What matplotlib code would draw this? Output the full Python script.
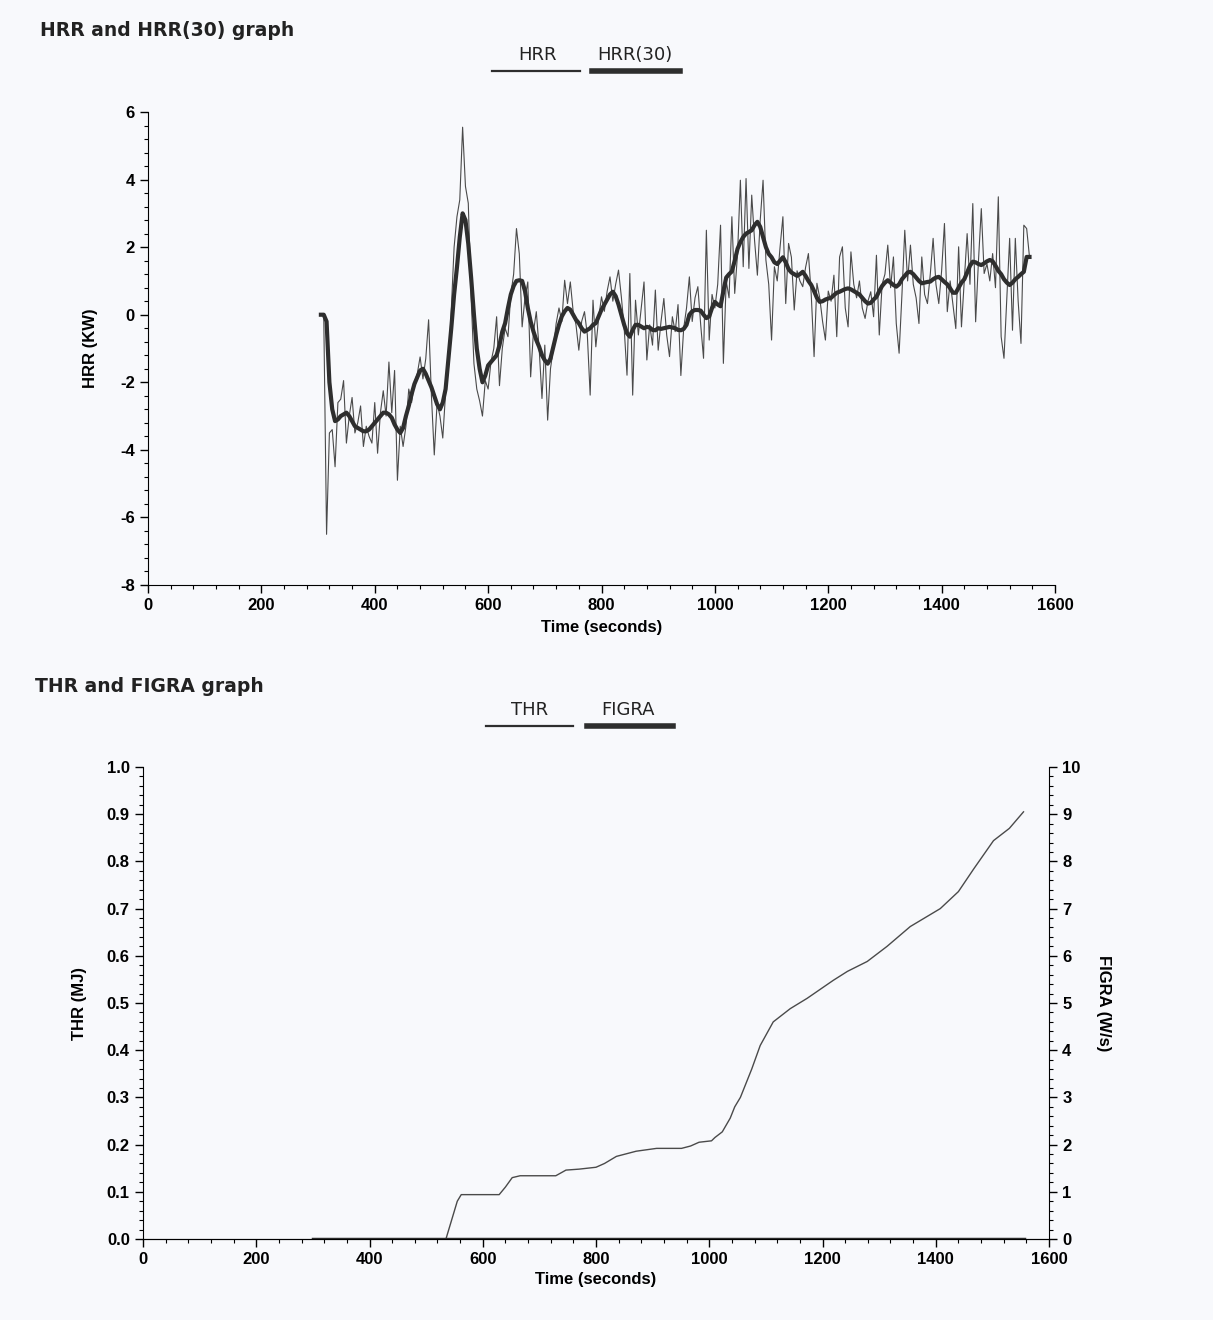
import numpy as np
import matplotlib
matplotlib.use("Agg")
import matplotlib.pyplot as plt
from matplotlib.lines import Line2D
from matplotlib.ticker import MultipleLocator, FormatStrFormatter

# -----------------------------
# Data
# -----------------------------
# HRR (kW), sampled every 5 s starting at 305 s
hrr = [0.0, 0.0, -6.5, -3.5, -3.4, -4.5, -2.6, -2.5, -1.95, -3.8,
       -3.0, -2.45, -3.5, -3.2, -2.7, -3.9, -3.3, -3.6, -3.8, -2.6,
       -4.1, -2.9, -2.25, -3.0, -1.4, -2.9, -1.65, -4.9, -3.3, -3.9,
       -3.3, -2.2, -2.6, -2.0, -1.75, -1.25, -1.9, -1.3, -0.15, -2.4,
       -4.15, -2.6, -3.0, -3.65, -2.3, -1.6, 0.15, 2.0, 2.9, 3.4,
       5.55, 3.8, 3.3, 0.5, -1.45, -2.2, -2.55, -3.0, -1.95, -2.2,
       -1.4, -1.0, -0.06, -2.1, -1.0, -0.4, -0.65, 0.6, 1.2, 2.55,
       1.8, -0.36, 0.5, 0.97, -1.84, -0.5, 0.09, -1.0, -2.48, -0.9,
       -3.12, -1.6, -1.0, -0.26, 0.2, -0.2, 1.02, 0.33, 0.97, 0.1,
       -0.3, -1.05, -0.2, 0.09, -0.6, -2.38, 0.43, -0.95, -0.1, 0.53,
       0.1, 0.7, 1.12, 0.4, 0.9, 1.32, 0.53, -0.4, -1.79, 1.22,
       -2.38, 0.43, -0.6, 0.2, 0.97, -1.34, -0.3, -0.9, 0.73, -1.05,
       -0.2, 0.48, -0.6, -1.24, -0.06, -0.5, 0.3, -1.8, -0.4, 0.2,
       1.12, -0.2, 0.5, 0.83, -0.3, -1.29, 2.5, -0.75, 0.6, 0.2,
       0.9, 2.65, -1.44, 1.0, 0.5, 2.9, 0.63, 1.8, 3.98, 1.42,
       4.03, 1.37, 3.54, 2.2, 1.17, 2.8, 3.98, 1.62, 0.9, -0.75,
       1.42, 1.0, 2.0, 2.9, 0.33, 2.11, 1.7, 0.14, 1.3, 1.0,
       0.83, 1.4, 1.81, 0.6, -1.24, 0.93, 0.5, -0.2, -0.75, 0.7,
       0.4, 1.17, -0.65, 1.71, 2.01, 0.2, -0.36, 1.86, 0.9, 0.5,
       1.0, 0.2, -0.11, 0.4, 0.68, -0.06, 1.76, -0.6, 0.9, 1.2,
       2.06, 0.8, 1.71, -0.26, -1.14, 0.6, 2.5, 1.0, 2.06, 0.9,
       0.5, -0.26, 1.71, 0.6, 0.33, 1.2, 2.26, 0.9, 0.33, 1.3,
       2.7, 0.09, 1.0, 0.3, -0.41, 2.01, -0.36, 1.0, 2.4, 0.9,
       3.29, -0.21, 1.6, 3.14, 1.22, 1.5, 1.0, 1.81, 0.8, 3.49,
       -0.65, -1.29, 0.5, 2.26, -0.46, 2.26, 0.4, -0.85, 2.65, 2.55,
       1.71]

# HRR(30) running average (kW), same 5 s grid from 305 s
hrr30 = [0.0, 0.0, -0.2, -2.0, -2.8, -3.15, -3.1, -3.0, -2.95, -2.9,
         -3.0, -3.15, -3.3, -3.35, -3.4, -3.45, -3.45, -3.4, -3.3, -3.2,
         -3.1, -3.0, -2.9, -2.9, -2.95, -3.05, -3.25, -3.4, -3.5, -3.35,
         -3.0, -2.7, -2.35, -2.05, -1.85, -1.65, -1.6, -1.75, -1.95, -2.15,
         -2.4, -2.65, -2.8, -2.6, -2.2, -1.3, -0.4, 0.6, 1.4, 2.3,
         3.0, 2.8, 2.1, 1.1, 0.0, -1.0, -1.6, -2.0, -1.8, -1.5,
         -1.4, -1.3, -1.2, -0.9, -0.5, -0.25, 0.2, 0.6, 0.85, 1.0,
         1.02, 1.0, 0.7, 0.2, -0.2, -0.5, -0.75, -0.95, -1.2, -1.35,
         -1.45, -1.3, -0.95, -0.6, -0.3, -0.05, 0.1, 0.2, 0.15, 0.0,
         -0.15, -0.25, -0.4, -0.5, -0.45, -0.4, -0.3, -0.25, -0.05, 0.15,
         0.3, 0.45, 0.6, 0.68, 0.55, 0.3, 0.0, -0.3, -0.55, -0.65,
         -0.45, -0.3, -0.3, -0.35, -0.4, -0.36, -0.38, -0.45, -0.46, -0.4,
         -0.42, -0.4, -0.38, -0.36, -0.38, -0.4, -0.45, -0.46, -0.42, -0.3,
         0.0, 0.1, 0.14, 0.14, 0.12, 0.0, -0.1, -0.05, 0.2, 0.38,
         0.3, 0.25, 0.7, 1.1, 1.2, 1.28, 1.6, 1.95, 2.15, 2.3,
         2.4, 2.45, 2.5, 2.65, 2.75, 2.6, 2.3, 2.0, 1.8, 1.7,
         1.55, 1.5, 1.6, 1.7, 1.55, 1.35, 1.25, 1.2, 1.15, 1.2,
         1.27, 1.15, 1.0, 0.88, 0.7, 0.5, 0.38, 0.4, 0.45, 0.48,
         0.5, 0.58, 0.65, 0.68, 0.72, 0.76, 0.78, 0.75, 0.7, 0.65,
         0.6, 0.5, 0.4, 0.33, 0.35, 0.45, 0.53, 0.7, 0.85, 0.95,
         1.02, 0.95, 0.88, 0.83, 0.9, 1.05, 1.15, 1.25, 1.27, 1.2,
         1.1, 1.0, 0.93, 0.95, 0.97, 0.98, 1.05, 1.1, 1.12, 1.05,
         0.97, 0.9, 0.78, 0.65, 0.65, 0.8, 0.95, 1.05, 1.25, 1.45,
         1.57, 1.55, 1.5, 1.47, 1.52, 1.58, 1.62, 1.58, 1.45, 1.3,
         1.2, 1.05, 0.95, 0.88, 0.95, 1.05, 1.12, 1.2, 1.27, 1.71,
         1.71]

hrr_time = 305 + 5 * np.arange(len(hrr))
hrr30_time = 305 + 5 * np.arange(len(hrr30))

# THR (MJ)
thr_time = [300, 535, 545, 555, 562, 600, 629, 640, 652, 666, 700, 729, 747,
            770, 800, 815, 836, 871, 907, 951, 967, 982, 1004, 1010, 1023,
            1037, 1045, 1055, 1065, 1075, 1090, 1113, 1143, 1173, 1219, 1244,
            1279, 1314, 1355, 1408, 1440, 1467, 1502, 1530, 1555]
thr = [0.0, 0.0, 0.04, 0.08, 0.094, 0.094, 0.094, 0.11, 0.13, 0.134, 0.134,
       0.134, 0.146, 0.148, 0.152, 0.16, 0.175, 0.186, 0.192, 0.192, 0.197,
       0.205, 0.208, 0.215, 0.227, 0.256, 0.28, 0.30, 0.33, 0.36, 0.41,
       0.46, 0.488, 0.51, 0.548, 0.567, 0.588, 0.62, 0.662, 0.70, 0.736,
       0.784, 0.844, 0.87, 0.905]

# FIGRA (W/s) - stays at zero
figra_time = [300, 1555]
figra = [0.0, 0.0]

# -----------------------------
# Style
# -----------------------------
plt.rcParams['font.family'] = ['Liberation Sans', 'DejaVu Sans']
plt.rcParams['font.weight'] = 'bold'
plt.rcParams['font.size'] = 12
plt.rcParams['axes.unicode_minus'] = False

W, H = 1213, 1320
fig = plt.figure(figsize=(W / 100, H / 100), dpi=100)
fig.patch.set_facecolor('#f8f9fc')

thin_col = '#4a4a4a'
thick_col = '#2e2e2e'


def style_axis(ax, xminor, yminor):
    ax.set_facecolor('none')
    ax.spines['top'].set_visible(False)
    ax.tick_params(which='major', direction='out', length=6, width=1, labelsize=12)
    ax.tick_params(which='minor', direction='out', length=3, width=0.8)
    ax.xaxis.set_minor_locator(MultipleLocator(xminor))
    ax.yaxis.set_minor_locator(MultipleLocator(yminor))
    for lab in ax.get_xticklabels() + ax.get_yticklabels():
        lab.set_fontweight('bold')


def legend_pair(y_text, y_line, items):
    # items: (label, x_text, x0, x1, linewidth)
    for label, xt, x0, x1, lw in items:
        fig.text(xt / W, 1 - y_text / H, label, family='DejaVu Sans',
                 weight='normal', fontsize=13, ha='center', va='center', color='#222222')
        fig.add_artist(Line2D([x0 / W, x1 / W], [1 - y_line / H, 1 - y_line / H],
                              transform=fig.transFigure, color=thick_col, lw=lw))


# -----------------------------
# HRR and HRR(30)
# -----------------------------
ax1 = fig.add_axes([148 / W, 1 - 585 / H, 907 / W, 473 / H])
ax1.plot(hrr_time, hrr, color=thin_col, lw=0.8)
ax1.plot(hrr30_time, hrr30, color=thick_col, lw=3.0, solid_joinstyle='round')
ax1.set_xlim(0, 1600)
ax1.set_ylim(-8, 6)
ax1.set_xticks(np.arange(0, 1601, 200))
ax1.set_yticks(np.arange(-8, 7, 2))
ax1.spines['right'].set_visible(False)
style_axis(ax1, 40, 0.4)
ax1.set_xlabel('Time (seconds)', fontsize=12, fontweight='bold')
ax1.set_ylabel('HRR (KW)', fontsize=12, fontweight='bold')
ax1.xaxis.set_label_coords(0.5, -0.075)
ax1.yaxis.set_label_coords(-0.055, 0.5)

fig.text(40 / W, 1 - 31 / H, 'HRR and HRR(30) graph', family='DejaVu Sans',
         weight='bold', fontsize=13.5, va='center', color='#222222')
legend_pair(55, 71, [('HRR', 537, 492, 580, 1.6), ('HRR(30)', 635, 592, 680, 4.0)])

# -----------------------------
# THR and FIGRA
# -----------------------------
ax2 = fig.add_axes([143 / W, 1 - 1239 / H, 906 / W, 472 / H])
ax2.plot(thr_time, thr, color=thin_col, lw=1.0)
ax2.set_xlim(0, 1600)
ax2.set_ylim(0, 1.0)
ax2.set_xticks(np.arange(0, 1601, 200))
ax2.set_yticks(np.arange(0, 1.01, 0.1))
ax2.yaxis.set_major_formatter(FormatStrFormatter('%.1f'))
ax2.spines['right'].set_visible(False)
style_axis(ax2, 40, 0.02)
ax2.set_xlabel('Time (seconds)', fontsize=12, fontweight='bold')
ax2.set_ylabel('THR (MJ)', fontsize=12, fontweight='bold')
ax2.xaxis.set_label_coords(0.5, -0.07)
ax2.yaxis.set_label_coords(-0.062, 0.5)

ax3 = ax2.twinx()
ax3.plot(figra_time, figra, color=thick_col, lw=2.5)
ax3.set_ylim(0, 10)
ax3.set_yticks(np.arange(0, 11, 1))
ax3.spines['top'].set_visible(False)
ax3.spines['left'].set_visible(False)
ax3.tick_params(which='major', direction='out', length=6, width=1, labelsize=12)
ax3.tick_params(which='minor', direction='out', length=3, width=0.8)
ax3.yaxis.set_minor_locator(MultipleLocator(0.2))
for lab in ax3.get_yticklabels():
    lab.set_fontweight('bold')
ax3.set_ylabel('FIGRA (W/s)', fontsize=12, fontweight='bold', rotation=-90)
ax3.yaxis.set_label_coords(1.068, 0.5)

fig.text(35 / W, 1 - 686 / H, 'THR and FIGRA graph', family='DejaVu Sans',
         weight='bold', fontsize=13.5, va='center', color='#222222')
legend_pair(710, 726, [('THR', 530, 486, 573, 1.6), ('FIGRA', 628, 587, 673, 4.0)])

plt.savefig('out.png', dpi=100, facecolor=fig.get_facecolor())
plt.close()
